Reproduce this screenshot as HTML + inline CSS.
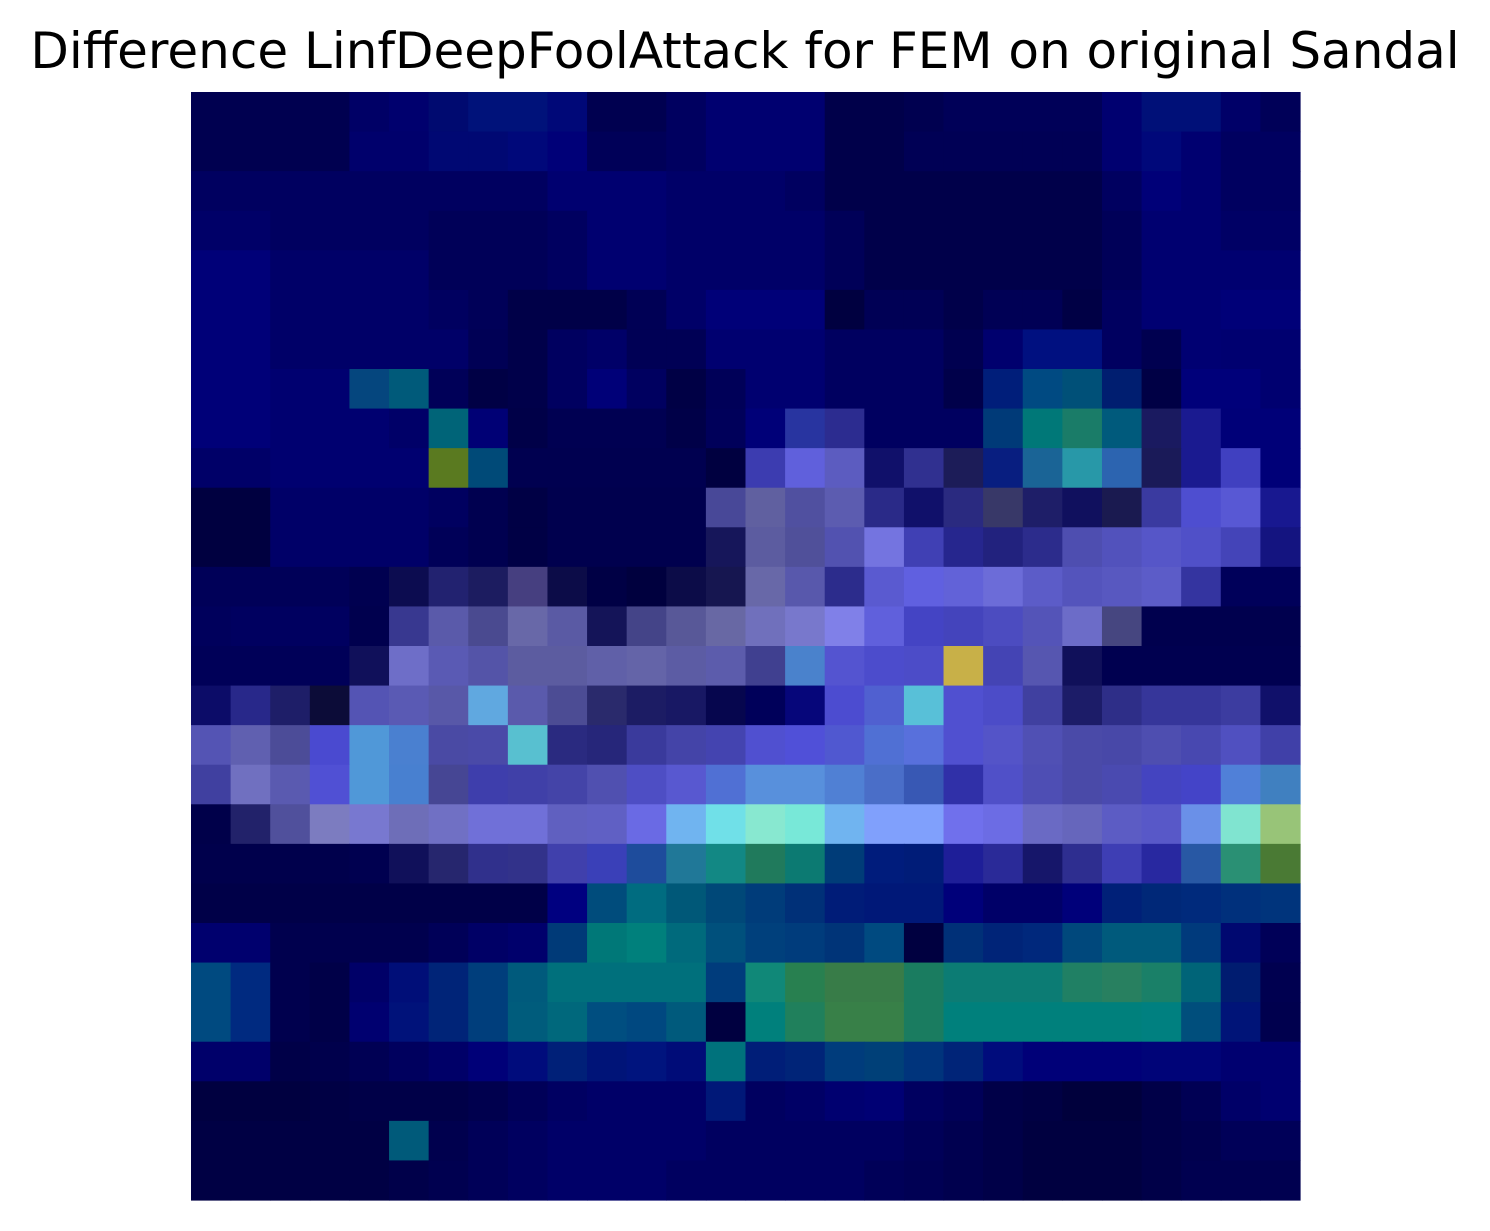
<!DOCTYPE html>
<html><head><meta charset="utf-8"><style>
body{margin:0;background:#fff;width:1490px;height:1231px;overflow:hidden;font-family:"DejaVu Sans","Liberation Sans",sans-serif}
#title{position:absolute;left:0;width:1490px;top:21px;text-align:center;font-size:50px;line-height:60px;color:#000;white-space:nowrap}
svg{position:absolute;left:0;top:0}
</style></head><body>
<div id="title">Difference LinfDeepFoolAttack for FEM on original Sandal</div>
<svg id="chart" width="1490" height="1231"></svg>
<script>
const rowsData = [
"000050*4 000066 00006e 000a70 00127a 00127a 000878 000050*2 000060 000070*3 00004a*2 000050 000058*4 000070 001078*2 000068 000058",
"000050*4 00006c*2 000873*2 00087a 000078 000058*2 000060 000070*3 00004a*2 000055*5 000070 00087a 000070 000060*2",
"000060*9 000070*3 000068*3 000060 00004a*7 000060 000078 000070 000060*2",
"000068*2 000060*4 000058*3 000060 000070*2 000068*4 000058 00004a*6 000058 000070*2 000065*2",
"000078*2 000068*4 000058*3 000060 000070*2 000068*4 000058 00004a*6 000058 000070*2 000070*2",
"000078*2 000068*4 000060 000058 000048*3 000055 000068 000078*3 000040 000055*2 00004a 000055*2 000045 000060 000072*2 000078*2",
"000078*2 000068*5 000055 00004a 000060 000068 000055*2 000070*3 000060*3 000050 00006e 001080*2 000060 000050 000072 000070*2",
"000078*2 000070*2 05467e 005a7a 000058 000045 00004a 000060 000078 000060 000045 000058 000070*2 000060*3 00004a 001e7a 004a82 005078 001e70 000045 00007a*2 000070",
"000078*2 000070*3 000068 006478 000075 000048 000052*3 000048 00005a 000078 2834a0 2c2c90 000060*3 003a78 007878 1a7c68 005a7c 1a1a60 1a1a90 000078*2",
"000068*2 000070*4 5a7a20 004a78 000050*5 000040 3c3cb0 6060dc 5c5cc0 10106a 303090 1c1c58 081e80 1a6496 2898a8 2c64b0 1a1a58 1a1a90 4040c0 000078",
"000040*2 000068*4 000060 000050 000045 00004e*4 484898 6060a0 5050a0 5c5cb0 2a2a88 10106a 2a2a80 383868 1e1e68 10105e 1a1a50 3a3aa0 4e4ed0 5858d4 181890",
"000040*2 000068*4 000058 000050 000045 00004e*4 16165a 5c5ca0 50509a 5252b0 7474e0 4040b4 26268e 22227e 2c2c8c 4e4eb0 5252bc 5656c8 5050c8 4444b8 141480",
"000058*4 000050 0c0c50 222270 1c1c60 463f80 0c0c48 000045 00003e 0c0c48 161650 6868a8 5858ac 2c2c8c 5a5ad0 6060e0 6262d8 6c6cd8 5c5cc8 5454bc 5858c0 5c5cc8 3434a0 00005a*2",
"00005c 000060*3 00004e 383890 5a5aaa 4a4a90 6868a8 5a5aa4 141458 444488 585898 6868a4 7070bc 7878cc 8080e8 6060dc 4444c4 4444bc 4c4cc0 5454b8 6c6cc8 464680 00004e*4",
"000058*4 10105a 6e6ec8 5a5ab4 5454a8 5c5ca0*2 6060a8 6464a8 5c5ca4 5c5cac 404090 4a82cc 5454d0 4c4ccc 4c4cc8 c8b048 4444b4 5656b0 10105a 000050*5",
"0c0c68 28288a 1e1e68 0c0c38 5454b4 5a5ab4 5858a8 60a8e0 5a5aac 4c4c94 2a2a6c 1c1c64 181864 06064e 00005a 06067a 4c4cd0 5060d0 58c0d8 5050d0 4c4cc8 4040a0 1c1c68 2e2e88 36369a*2 3c3ca0 10106a",
"5454b4 6060b0 4c4c98 4a4ad0 5098d8 4a80d0 4a4aa4 4a4aa8 58c0d0 2a2a80 26267a 3a3a9c 4444a8 4444b0 5050d0 5050d8 5058d0 5070d4 5870dc 5050d0 5454c8 5050b4 4a4aa8 4848a8 4e4eb0 4848b0 5050c0 4040a8",
"4040a0 7070c0 5a5ab0 5050d4 5098d8 4880d0 464694 3e3eac 4040a8 4444a8 5050b0 4e4ec4 5858d0 5070d4 5890dc 5890dc 5080d4 4a6ec8 3858b4 3030a8 5050c8 4e4eb4 4a4aa8 4a4ab0 4444c0 4444c8 5080d8 4080c0",
"00004a 22226a 50509c 7c7cc0 7878d0 6e6eb8 7070c4 7070d8 7070d8 6060c0 6060c4 6a6ae4 70b4f0 70e0e8 88e8d0 78e8d8 70b4f0 80a0fc 80a0fc 7070ec 6c6ce4 6a6ac4 6666bc 5c5cc4 5858c8 6a90e8 80e4d0 98c478",
"00004c*4 000050 10105a 26266e 30308c 32328a 4040ac 3a40b8 1e4c9c 207898 128884 207a5c 0c7a72 003c78 001c7c 001c78 1e1e98 2a2a98 16166a 2e2e90 3e3eb4 2828a0 2858a4 2a9074 4a7a34",
"000048*9 000080 004c7c 006c80 005878 004878 003c7a 003078 001c78 001878*2 00007a 000068*2 00007a 002078 002878 002a7c 00307c 00347c",
"00006e*2 00004e*4 000058 000066 00006c 003a78 007878 00807c 006a7c 00507c 00407c 003c7c 003478 004a80 000040 003078 002478 00287c 00487c 005a7c*2 003a7c 000870 000058",
"004a80 002a80 00004e 000048 000068 000e78 002478 003e7c 005a7c 00707c*4 003c7c 108878 288050 387c48*2 1a7c60 0c7c74*3 208064 288060 1a8068 006478 001c70 000050",
"004a80 002a80 00004e 000048 000070 00127a 002478 003e7c 005c7c 00687c 004e80 004880 005a7c 000040 00807c 20805c 388048*2 1a7c60 00807c*5 008080 004e7c 001478 00004e",
"00006a*2 000048 00004c 000054 00005e 000068 000078 000c7c 002078 001478 00147e 000c78 00727c 001e78 002478 003c7c 004078 00347c 002478 000c7c 000078*3 000478*2 000070*2",
"000040*3 000044 000048*3 00004e 000058 000062 000068*3 001878 000060 000066 000070 000074 000060 000058 000048 000044 00003c*2 000048 000054 000068 000070",
"000044*5 005a7a 00004e 000058 000060 000068*4 000060*5 000058 000050 000048 000040*3 000048 00004e 000058*2",
"000044*5 00004a 000050 000058 000060 000068*3 000060*5 000058 000054 00004e 000048 000040*3 000048 000050*3"
];
const nCols = 28, nRows = 28;
const x0 = 191, y0 = 92, w = 1109, h = 1108;
function xPos(c){return x0 + c*w/nCols;}
function yPos(r){return y0 + r*h/nRows;}
function parseRow(s){const out=[];s.trim().split(/\s+/).forEach(t=>{const [c,n]=t.split('*');for(let i=0;i<(n?+n:1);i++)out.push('#'+c);});return out;}
const svg=document.getElementById('chart');
const NS='http://www.w3.org/2000/svg';
rowsData.forEach((s,r)=>{
  const row=parseRow(s);
  row.forEach((col,c)=>{
    const rect=document.createElementNS(NS,'rect');
    rect.setAttribute('x',xPos(c));
    rect.setAttribute('y',yPos(r));
    rect.setAttribute('width',w/nCols+0.6);
    rect.setAttribute('height',h/nRows+0.6);
    rect.setAttribute('fill',col);
    
    
    svg.appendChild(rect);
  });
});
</script>
</body></html>
